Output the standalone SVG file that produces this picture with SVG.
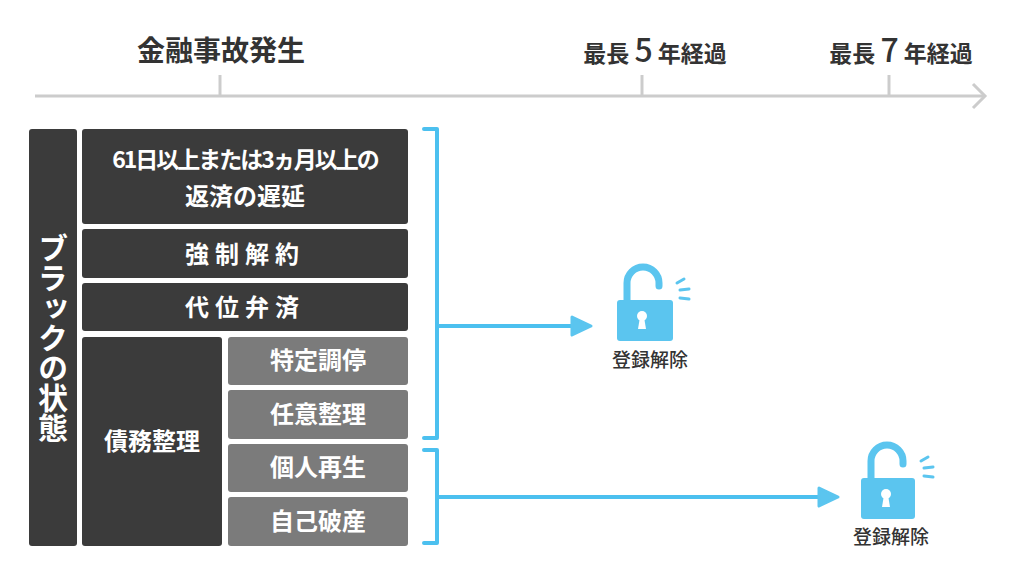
<svg xmlns="http://www.w3.org/2000/svg" width="1024" height="576" viewBox="0 0 1024 576">
<style>
text{font-family:"Noto Sans CJK JP","Noto Sans",sans-serif;font-weight:bold}
.d{fill:#3b3b3b}.g{fill:#7b7b7b}
.w{fill:#fff;font-size:24px;text-anchor:middle}
.t{fill:#333;text-anchor:middle}
.b{fill:none;stroke:#4cc0ef;stroke-width:4;stroke-linecap:round;stroke-linejoin:round}
.lk{fill:#5bc5ef}
.lb{fill:#333;font-size:19px;text-anchor:middle;font-weight:500}
</style>
<rect width="1024" height="576" fill="#fff"/>
<g id="timeline" stroke="#ccc" stroke-width="3" fill="none">
<line x1="35" y1="96" x2="985" y2="96"/>
<line x1="220" y1="75" x2="220" y2="96"/><line x1="642" y1="75" x2="642" y2="96"/><line x1="889" y1="75" x2="889" y2="96"/>
<polyline points="973,84 985,96 973,108"/>
</g>
<text class="t" x="221" y="61" style="font-size:28px">金融事故発生</text>
<text class="t" x="655" y="62" style="font-size:23px">最長 <tspan style="font-size:32px;font-weight:500">5</tspan> 年経過</text>
<text class="t" x="901" y="62" style="font-size:23px">最長 <tspan style="font-size:32px;font-weight:500">7</tspan> 年経過</text>
<g id="left"><rect class="d" x="29" y="129" width="48" height="417" rx="3"/>
<text class="w" x="53" y="338" style="font-size:30px;writing-mode:vertical-rl;text-orientation:upright">ブラックの状態</text></g>
<g id="n1"><rect class="d" x="82" y="129" width="326" height="95" rx="3"/><text class="w" x="245" y="168" style="font-size:23px;letter-spacing:-2px">61日以上または3ヵ月以上の</text><text class="w" x="245" y="205">返済の遅延</text></g>
<g id="n2"><rect class="d" x="82" y="229" width="326" height="49" rx="3"/><text class="w" x="245" y="263" letter-spacing="6">強制解約</text></g>
<g id="n3"><rect class="d" x="82" y="283" width="326" height="48" rx="3"/><text class="w" x="245" y="316" letter-spacing="6">代位弁済</text></g>
<g id="n4"><rect class="d" x="82" y="337" width="140" height="209" rx="3"/><text class="w" x="152" y="450">債務整理</text></g>
<g id="n5"><rect class="g" x="228" y="337" width="180" height="48" rx="3"/><text class="w" x="318" y="369">特定調停</text></g>
<g id="n6"><rect class="g" x="228" y="390" width="180" height="49" rx="3"/><text class="w" x="318" y="423">任意整理</text></g>
<g id="n7"><rect class="g" x="228" y="444" width="180" height="48" rx="3"/><text class="w" x="318" y="476">個人再生</text></g>
<g id="n8"><rect class="g" x="228" y="497" width="180" height="49" rx="3"/><text class="w" x="318" y="530">自己破産</text></g>
<g id="connectors">
<path class="b" d="M424,129 H437 V438 H424"/>
<path class="b" d="M424,450 H437 V543 H424"/>
<line class="b" x1="439" y1="326" x2="575" y2="326"/><path class="lk" d="M572,317 L591,326 L572,335 Z" stroke="#5bc5ef" stroke-width="3" stroke-linejoin="round"/>
<line class="b" x1="439" y1="497" x2="822" y2="497"/><path class="lk" d="M819,488 L838,497 L819,506 Z" stroke="#5bc5ef" stroke-width="3" stroke-linejoin="round"/>
</g>
<g id="lock1">
<path d="M627,302 V283 A16,16 0 0 1 659,283 V286" fill="none" stroke="#5bc5ef" stroke-width="7" stroke-linecap="round"/>
<rect class="lk" x="617" y="300" width="56" height="41" rx="3"/>
<circle cx="642" cy="316" r="5" fill="#fff"/><path d="M640,317 H644 L646,329 H638 Z" fill="#fff"/>
<g stroke="#5bc5ef" stroke-width="3" stroke-linecap="round"><line x1="677" y1="283" x2="684" y2="279"/><line x1="680" y1="290" x2="689" y2="289"/><line x1="680" y1="298" x2="689" y2="299"/></g>
<text class="lb" x="650" y="367">登録解除</text></g>
<g id="lock2">
<path d="M871,480 V461 A16,16 0 0 1 903,461 V464" fill="none" stroke="#5bc5ef" stroke-width="7" stroke-linecap="round"/>
<rect class="lk" x="861" y="478" width="54" height="41" rx="3"/>
<circle cx="886" cy="494" r="5" fill="#fff"/><path d="M884,495 H888 L890,507 H882 Z" fill="#fff"/>
<g stroke="#5bc5ef" stroke-width="3" stroke-linecap="round"><line x1="921" y1="461" x2="928" y2="457"/><line x1="924" y1="468" x2="933" y2="467"/><line x1="924" y1="476" x2="933" y2="477"/></g>
<text class="lb" x="891" y="544">登録解除</text></g>
</svg>
